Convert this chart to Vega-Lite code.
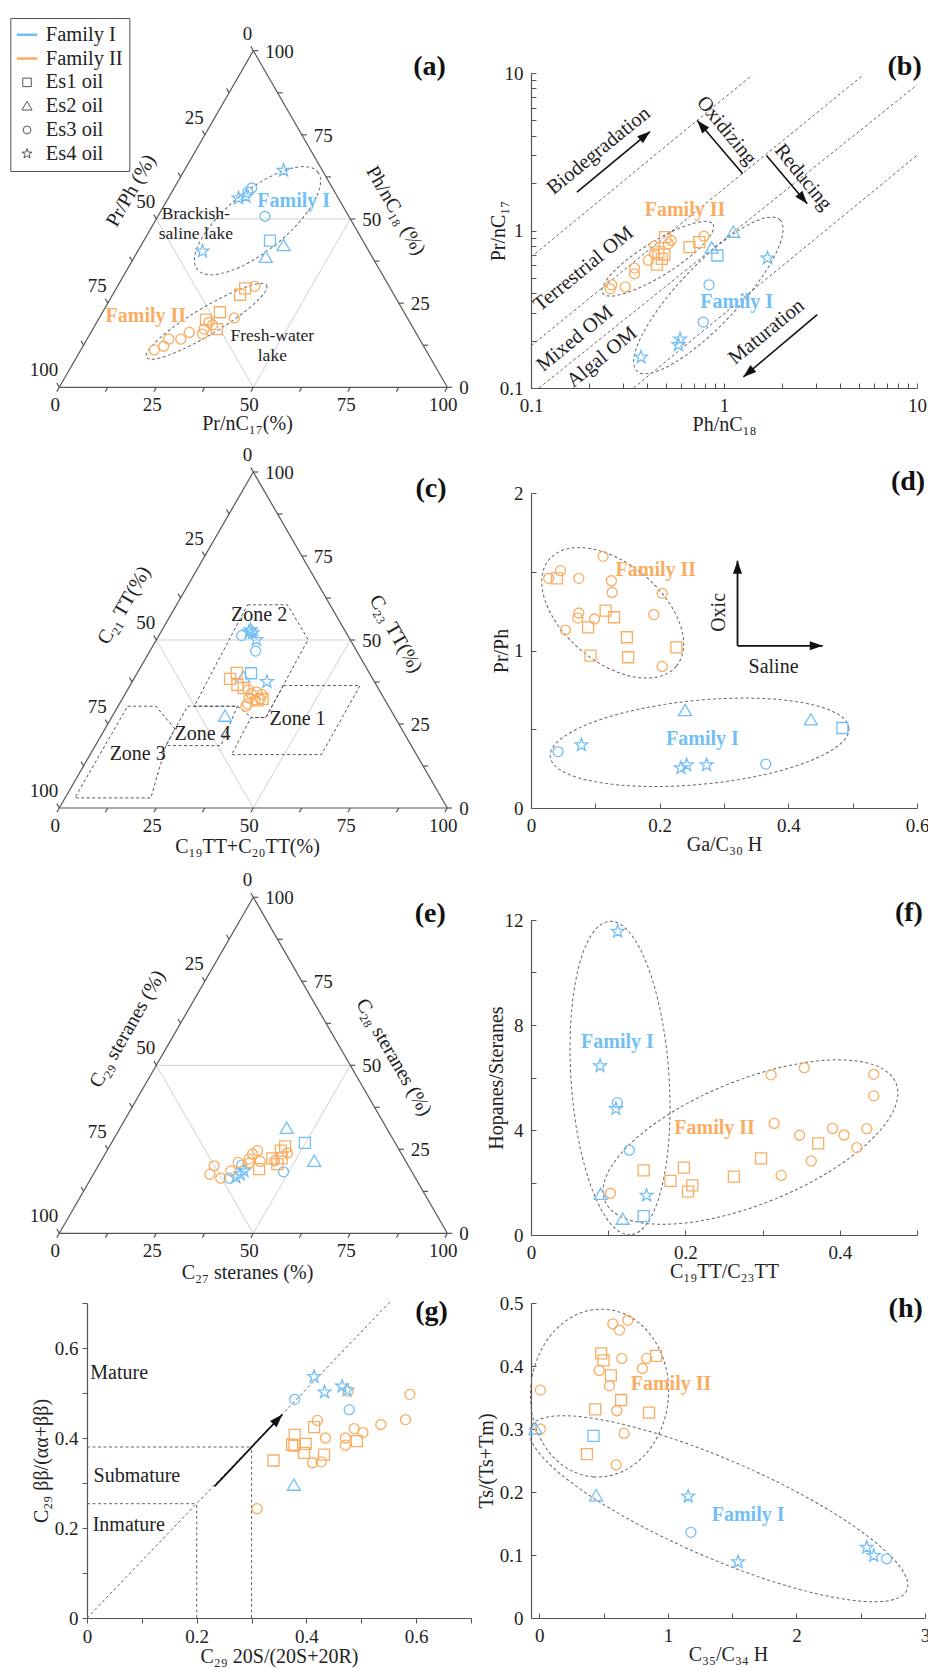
{
"$schema":"https://vega.github.io/schema/vega-lite/v6.json",
"background":"white",
"padding":{"left":9,"top":17,"right":2,"bottom":2},
"config":{"view":{"stroke":null},"font":"Liberation Serif","text":{"font":"Liberation Serif"},
"axis":{"labelFont":"Liberation Serif","titleFont":"Liberation Serif","labelFontSize":19,"titleFontSize":20,"titleFontWeight":"normal","labelColor":"#222","titleColor":"#222","domainColor":"#555","tickColor":"#555","grid":false,"tickSize":-5,"labelPadding":13,"titleBaseline":"middle","labelFlush":false,"labelOverlap":false,"domainWidth":1.2,"tickWidth":1}},
"datasets":{
"frame":[
{"t":"side","x":0,"y":0,"x2":100,"y2":0},{"t":"side","x":0,"y":0,"x2":50,"y2":100},{"t":"side","x":100,"y":0,"x2":50,"y2":100},
{"t":"grid","x":25,"y":50,"x2":75,"y2":50},{"t":"grid","x":25,"y":50,"x2":50,"y2":0},{"t":"grid","x":50,"y":0,"x2":75,"y2":50},
{"t":"tick","x":0,"y":0,"x2":-0.64,"y2":-1.29},{"t":"tick","x":12.5,"y":0,"x2":11.86,"y2":-1.29},{"t":"tick","x":25,"y":0,"x2":24.36,"y2":-1.29},{"t":"tick","x":37.5,"y":0,"x2":36.86,"y2":-1.29},{"t":"tick","x":50,"y":0,"x2":49.36,"y2":-1.29},{"t":"tick","x":62.5,"y":0,"x2":61.86,"y2":-1.29},{"t":"tick","x":75,"y":0,"x2":74.36,"y2":-1.29},{"t":"tick","x":87.5,"y":0,"x2":86.86,"y2":-1.29},{"t":"tick","x":100,"y":0,"x2":99.36,"y2":-1.29},
{"t":"tick","x":50,"y":100,"x2":49.36,"y2":101.29},{"t":"tick","x":43.75,"y":87.5,"x2":43.11,"y2":88.79},{"t":"tick","x":37.5,"y":75,"x2":36.86,"y2":76.29},{"t":"tick","x":31.25,"y":62.5,"x2":30.61,"y2":63.79},{"t":"tick","x":25,"y":50,"x2":24.36,"y2":51.29},{"t":"tick","x":18.75,"y":37.5,"x2":18.11,"y2":38.79},{"t":"tick","x":12.5,"y":25,"x2":11.86,"y2":26.29},{"t":"tick","x":6.25,"y":12.5,"x2":5.61,"y2":13.79},{"t":"tick","x":0,"y":0,"x2":-0.64,"y2":1.29},
{"t":"tick","x":100,"y":0,"x2":101.29,"y2":0},{"t":"tick","x":93.75,"y":12.5,"x2":95.04,"y2":12.5},{"t":"tick","x":87.5,"y":25,"x2":88.79,"y2":25},{"t":"tick","x":81.25,"y":37.5,"x2":82.54,"y2":37.5},{"t":"tick","x":75,"y":50,"x2":76.29,"y2":50},{"t":"tick","x":68.75,"y":62.5,"x2":70.04,"y2":62.5},{"t":"tick","x":62.5,"y":75,"x2":63.79,"y2":75},{"t":"tick","x":56.25,"y":87.5,"x2":57.54,"y2":87.5},{"t":"tick","x":50,"y":100,"x2":51.29,"y2":100}],
"tlab":[
{"s":"b","label":"0","x":0,"y":0},{"s":"b","label":"25","x":25,"y":0},{"s":"b","label":"50","x":50,"y":0},{"s":"b","label":"75","x":75,"y":0},{"s":"b","label":"100","x":100,"y":0},
{"s":"l","label":"0","x":50,"y":100},{"s":"l","label":"25","x":37.5,"y":75},{"s":"l","label":"50","x":25,"y":50},{"s":"l","label":"75","x":12.5,"y":25},{"s":"l","label":"100","x":0,"y":0},
{"s":"r","label":"0","x":100,"y":0},{"s":"r","label":"25","x":87.5,"y":25},{"s":"r","label":"50","x":75,"y":50},{"s":"r","label":"75","x":62.5,"y":75},{"s":"r","label":"100","x":50,"y":100}],
"zones":[
{"z":"1","i":0,"x":57.77,"y":36.44},{"z":"1","i":1,"x":77.51,"y":36.44},{"z":"1","i":2,"x":67.55,"y":15.89},{"z":"1","i":3,"x":44.38,"y":15.89},{"z":"1","i":4,"x":49.4,"y":26.9},{"z":"1","i":5,"x":53.2,"y":26.9},{"z":"1","i":6,"x":57.77,"y":36.44},
{"z":"2","i":0,"x":48.5,"y":60.47},{"z":"2","i":1,"x":58.8,"y":60.47},{"z":"2","i":2,"x":64.12,"y":50.14},{"z":"2","i":3,"x":53.2,"y":26.9},{"z":"2","i":4,"x":49.6,"y":26.9},{"z":"2","i":5,"x":45.92,"y":30.29},{"z":"2","i":6,"x":34.77,"y":30.29},{"z":"2","i":7,"x":48.5,"y":60.47},
{"z":"4","i":0,"x":33.05,"y":30.29},{"z":"4","i":1,"x":45.92,"y":30.29},{"z":"4","i":2,"x":41.63,"y":18.57},{"z":"4","i":3,"x":27.47,"y":18.57},{"z":"4","i":4,"x":33.05,"y":30.29},
{"z":"3","i":0,"x":17.6,"y":30.3},{"z":"3","i":1,"x":24.9,"y":30.3},{"z":"3","i":2,"x":29.8,"y":23.5},{"z":"3","i":3,"x":27.47,"y":18.57},{"z":"3","i":4,"x":23.6,"y":3.0},{"z":"3","i":5,"x":4.0,"y":3.0},{"z":"3","i":6,"x":17.6,"y":30.3}],
"ell":[
{"id":"a1","x":51.08,"y":49.5},{"id":"a2","x":37.95,"y":19.6},{"id":"b1","x":0.454,"y":0.662},{"id":"b2","x":0.83,"y":0.387},{"id":"d1","x":0.127,"y":1.239},{"id":"d2","x":0.262,"y":0.417},{"id":"f1","x":0.1153,"y":5.98},{"id":"f2","x":0.2843,"y":3.54},{"id":"h1","x":0.468,"y":0.357},{"id":"h2","x":1.395,"y":0.1734}],
"blin":[{"x":0.1,"y":0.678,"x2":1.4,"y2":9.7},{"x":0.1,"y":0.185,"x2":5.26,"y2":9.7},{"x":0.11,"y":0.1,"x2":10,"y2":8.4},{"x":0.34,"y":0.1,"x2":10,"y2":3.0}],
"glin":[{"x":0,"y":0,"x2":0.552,"y2":0.702},{"x":0,"y":0.38,"x2":0.3,"y2":0.38},{"x":0.3,"y":0,"x2":0.3,"y2":0.38},{"x":0,"y":0.254,"x2":0.2,"y2":0.254},{"x":0.2,"y":0,"x2":0.2,"y2":0.254}],
"arr":[
{"p":"b","id":"bio","x":0.173,"y":1.75,"x2":0.414,"y2":4.25},{"p":"b","id":"oxi","x":1.25,"y":2.29,"x2":0.727,"y2":4.99},{"p":"b","id":"red","x":1.66,"y":2.99,"x2":2.7,"y2":1.48},{"p":"b","id":"mat","x":3.04,"y":0.292,"x2":1.26,"y2":0.1175},
{"p":"d","id":"up","x":0.321,"y":1.03,"x2":0.321,"y2":1.57},{"p":"d","id":"rt","x":0.321,"y":1.03,"x2":0.4535,"y2":1.03},
{"p":"g","id":"g","x":0.2325,"y":0.2926,"x2":0.356,"y2":0.452}],
"ann":[
{"p":"a","k":"tl","label":"Pr/Ph (%)","x":18.5,"y":58.4},{"p":"a","k":"tr","label":"Ph/nC₁₈ (%)","x":86.7,"y":52.5},{"p":"a","k":"tb","label":"Pr/nC₁₇(%)","x":48.5,"y":-10.9},
{"p":"a","k":"fam1","label":"Family I","x":60.4,"y":55.3},{"p":"a","k":"fam2","label":"Family II","x":22.3,"y":21.3},
{"p":"a","k":"noteS","label":"Brackish-","x":35.2,"y":51.5},{"p":"a","k":"noteS","label":"saline lake","x":35.2,"y":45.5},{"p":"a","k":"noteS","label":"Fresh-water","x":54.9,"y":15.2},{"p":"a","k":"noteS","label":"lake","x":54.9,"y":9.4},
{"p":"a","k":"panel","label":"(a)","x":95.4,"y":95.1},
{"p":"b","k":"fam2","label":"Family II","x":0.628,"y":1.34},{"p":"b","k":"fam1","label":"Family I","x":1.164,"y":0.351},
{"p":"b","k":"rot39","label":"Terrestrial OM","x":0.187,"y":0.571},{"p":"b","k":"rot39","label":"Mixed OM","x":0.169,"y":0.206},{"p":"b","k":"rot39","label":"Algal OM","x":0.233,"y":0.157},{"p":"b","k":"rot39","label":"Biodegradation","x":0.224,"y":3.21},{"p":"b","k":"rot39","label":"Maturation","x":1.66,"y":0.227},
{"p":"b","k":"rot51","label":"Oxidizing","x":1.03,"y":4.31},{"p":"b","k":"rot51","label":"Reducing","x":2.57,"y":2.18},
{"p":"b","k":"panel","label":"(b)","x":8.63,"y":10.87},
{"p":"c","k":"tl","label":"C₂₁ TT(%)","x":16.7,"y":60.3},{"p":"c","k":"tr","label":"C₂₃ TT(%)","x":86.7,"y":51.8},{"p":"c","k":"tb","label":"C₁₉TT+C₂₀TT(%)","x":48.5,"y":-11.7},
{"p":"c","k":"note","label":"Zone 1","x":61.4,"y":26.5},{"p":"c","k":"note","label":"Zone 2","x":51.5,"y":57.3},{"p":"c","k":"note","label":"Zone 3","x":20.2,"y":16.1},{"p":"c","k":"note","label":"Zone 4","x":36.9,"y":22.0},
{"p":"c","k":"panel","label":"(c)","x":95.8,"y":94.9},
{"p":"d","k":"fam2","label":"Family II","x":0.194,"y":1.513},{"p":"d","k":"fam1","label":"Family I","x":0.2665,"y":0.438},{"p":"d","k":"rot90","label":"Oxic","x":0.2925,"y":1.242},{"p":"d","k":"note","label":"Saline","x":0.377,"y":0.897},{"p":"d","k":"panel","label":"(d)","x":0.586,"y":2.068},
{"p":"e","k":"tl","label":"C₂₉ steranes (%)","x":17.6,"y":60.8},{"p":"e","k":"tr","label":"C₂₈ steranes (%)","x":86.2,"y":52.4},{"p":"e","k":"tb","label":"C₂₇ steranes (%)","x":48.5,"y":-11.9},{"p":"e","k":"panel","label":"(e)","x":95.6,"y":95.0},
{"p":"f","k":"fam1","label":"Family I","x":0.112,"y":7.35},{"p":"f","k":"fam2","label":"Family II","x":0.2378,"y":4.09},{"p":"f","k":"panel","label":"(f)","x":0.4895,"y":12.28},
{"p":"g","k":"noteL","label":"Mature","x":0.006,"y":0.544},{"p":"g","k":"noteL","label":"Submature","x":0.012,"y":0.3156},{"p":"g","k":"noteL","label":"Inmature","x":0.0104,"y":0.206},{"p":"g","k":"panel","label":"(g)","x":0.628,"y":0.68},
{"p":"h","k":"fam2","label":"Family II","x":1.024,"y":0.371},{"p":"h","k":"fam1","label":"Family I","x":1.624,"y":0.164},{"p":"h","k":"panel","label":"(h)","x":2.85,"y":0.491}],
"pts":[
{"p":"a","fam":"Family I","oil":"Es4 oil","x":57.8,"y":64.4},{"p":"a","fam":"Family I","oil":"Es3 oil","x":49.6,"y":59.2},{"p":"a","fam":"Family I","oil":"Es3 oil","x":48.6,"y":58.0},{"p":"a","fam":"Family I","oil":"Es4 oil","x":46.2,"y":56.2},{"p":"a","fam":"Family I","oil":"Es4 oil","x":48.1,"y":56.7},{"p":"a","fam":"Family I","oil":"Es3 oil","x":53.0,"y":50.8},{"p":"a","fam":"Family I","oil":"Es1 oil","x":54.3,"y":43.6},{"p":"a","fam":"Family I","oil":"Es2 oil","x":57.8,"y":42.1},{"p":"a","fam":"Family I","oil":"Es2 oil","x":53.2,"y":38.6},{"p":"a","fam":"Family I","oil":"Es4 oil","x":36.9,"y":40.4},
{"p":"a","fam":"Family II","oil":"Es3 oil","x":50.4,"y":30.0},{"p":"a","fam":"Family II","oil":"Es1 oil","x":47.9,"y":29.4},{"p":"a","fam":"Family II","oil":"Es1 oil","x":46.6,"y":27.5},{"p":"a","fam":"Family II","oil":"Es1 oil","x":41.4,"y":22.3},{"p":"a","fam":"Family II","oil":"Es3 oil","x":45.1,"y":20.6},{"p":"a","fam":"Family II","oil":"Es1 oil","x":37.8,"y":20.1},{"p":"a","fam":"Family II","oil":"Es3 oil","x":38.6,"y":19.3},{"p":"a","fam":"Family II","oil":"Es1 oil","x":40.6,"y":17.3},{"p":"a","fam":"Family II","oil":"Es3 oil","x":37.3,"y":17.3},{"p":"a","fam":"Family II","oil":"Es3 oil","x":36.9,"y":15.8},{"p":"a","fam":"Family II","oil":"Es3 oil","x":33.5,"y":16.3},{"p":"a","fam":"Family II","oil":"Es3 oil","x":31.3,"y":14.3},{"p":"a","fam":"Family II","oil":"Es3 oil","x":28.2,"y":14.3},{"p":"a","fam":"Family II","oil":"Es3 oil","x":26.9,"y":12.2},{"p":"a","fam":"Family II","oil":"Es3 oil","x":24.5,"y":11.1},{"p":"a","fam":"Family II","oil":"Es3 oil","x":39.5,"y":18.5},
{"p":"b","fam":"Family II","oil":"Es3 oil","x":0.257,"y":0.426},{"p":"b","fam":"Family II","oil":"Es3 oil","x":0.262,"y":0.452},{"p":"b","fam":"Family II","oil":"Es3 oil","x":0.308,"y":0.438},{"p":"b","fam":"Family II","oil":"Es3 oil","x":0.344,"y":0.531},{"p":"b","fam":"Family II","oil":"Es3 oil","x":0.344,"y":0.577},{"p":"b","fam":"Family II","oil":"Es3 oil","x":0.406,"y":0.646},{"p":"b","fam":"Family II","oil":"Es3 oil","x":0.437,"y":0.796},{"p":"b","fam":"Family II","oil":"Es3 oil","x":0.437,"y":0.711},{"p":"b","fam":"Family II","oil":"Es1 oil","x":0.449,"y":0.608},{"p":"b","fam":"Family II","oil":"Es1 oil","x":0.476,"y":0.661},{"p":"b","fam":"Family II","oil":"Es1 oil","x":0.491,"y":0.704},{"p":"b","fam":"Family II","oil":"Es1 oil","x":0.457,"y":0.729},{"p":"b","fam":"Family II","oil":"Es1 oil","x":0.495,"y":0.908},{"p":"b","fam":"Family II","oil":"Es3 oil","x":0.515,"y":0.823},{"p":"b","fam":"Family II","oil":"Es3 oil","x":0.532,"y":0.864},{"p":"b","fam":"Family II","oil":"Es1 oil","x":0.662,"y":0.784},{"p":"b","fam":"Family II","oil":"Es1 oil","x":0.745,"y":0.843},{"p":"b","fam":"Family II","oil":"Es3 oil","x":0.788,"y":0.92},
{"p":"b","fam":"Family I","oil":"Es2 oil","x":1.117,"y":0.975},{"p":"b","fam":"Family I","oil":"Es2 oil","x":0.863,"y":0.773},{"p":"b","fam":"Family I","oil":"Es1 oil","x":0.924,"y":0.694},{"p":"b","fam":"Family I","oil":"Es4 oil","x":1.68,"y":0.668},{"p":"b","fam":"Family I","oil":"Es3 oil","x":0.836,"y":0.452},{"p":"b","fam":"Family I","oil":"Es3 oil","x":0.781,"y":0.262},{"p":"b","fam":"Family I","oil":"Es4 oil","x":0.592,"y":0.204},{"p":"b","fam":"Family I","oil":"Es4 oil","x":0.58,"y":0.188},{"p":"b","fam":"Family I","oil":"Es4 oil","x":0.372,"y":0.157},
{"p":"c","fam":"Family I","oil":"Es3 oil","x":47.0,"y":51.3},{"p":"c","fam":"Family I","oil":"Es4 oil","x":48.9,"y":52.5},{"p":"c","fam":"Family I","oil":"Es4 oil","x":49.8,"y":52.1},{"p":"c","fam":"Family I","oil":"Es4 oil","x":49.3,"y":53.0},{"p":"c","fam":"Family I","oil":"Es4 oil","x":50.8,"y":50.1},{"p":"c","fam":"Family I","oil":"Es3 oil","x":50.6,"y":46.7},{"p":"c","fam":"Family I","oil":"Es1 oil","x":49.4,"y":40.1},{"p":"c","fam":"Family I","oil":"Es2 oil","x":47.4,"y":38.9},{"p":"c","fam":"Family I","oil":"Es4 oil","x":53.5,"y":37.6},{"p":"c","fam":"Family I","oil":"Es2 oil","x":42.7,"y":27.3},
{"p":"c","fam":"Family II","oil":"Es1 oil","x":45.7,"y":40.2},{"p":"c","fam":"Family II","oil":"Es1 oil","x":44.0,"y":38.4},{"p":"c","fam":"Family II","oil":"Es1 oil","x":45.9,"y":36.6},{"p":"c","fam":"Family II","oil":"Es1 oil","x":47.5,"y":35.7},{"p":"c","fam":"Family II","oil":"Es3 oil","x":48.7,"y":35.2},{"p":"c","fam":"Family II","oil":"Es3 oil","x":49.5,"y":34.0},{"p":"c","fam":"Family II","oil":"Es3 oil","x":50.9,"y":34.5},{"p":"c","fam":"Family II","oil":"Es3 oil","x":52.2,"y":33.8},{"p":"c","fam":"Family II","oil":"Es3 oil","x":48.9,"y":32.7},{"p":"c","fam":"Family II","oil":"Es3 oil","x":50.4,"y":32.2},{"p":"c","fam":"Family II","oil":"Es3 oil","x":51.8,"y":32.5},{"p":"c","fam":"Family II","oil":"Es3 oil","x":48.5,"y":31.0},{"p":"c","fam":"Family II","oil":"Es3 oil","x":48.1,"y":30.3},{"p":"c","fam":"Family II","oil":"Es1 oil","x":51.1,"y":32.0},{"p":"c","fam":"Family II","oil":"Es1 oil","x":52.4,"y":32.5},
{"p":"d","fam":"Family II","oil":"Es3 oil","x":0.0275,"y":1.458},{"p":"d","fam":"Family II","oil":"Es1 oil","x":0.0405,"y":1.458},{"p":"d","fam":"Family II","oil":"Es3 oil","x":0.0457,"y":1.507},{"p":"d","fam":"Family II","oil":"Es3 oil","x":0.0743,"y":1.458},{"p":"d","fam":"Family II","oil":"Es3 oil","x":0.112,"y":1.598},{"p":"d","fam":"Family II","oil":"Es3 oil","x":0.125,"y":1.443},{"p":"d","fam":"Family II","oil":"Es3 oil","x":0.126,"y":1.369},{"p":"d","fam":"Family II","oil":"Es3 oil","x":0.204,"y":1.363},{"p":"d","fam":"Family II","oil":"Es3 oil","x":0.0743,"y":1.238},{"p":"d","fam":"Family II","oil":"Es3 oil","x":0.0727,"y":1.206},{"p":"d","fam":"Family II","oil":"Es3 oil","x":0.0987,"y":1.2},{"p":"d","fam":"Family II","oil":"Es1 oil","x":0.116,"y":1.253},{"p":"d","fam":"Family II","oil":"Es1 oil","x":0.129,"y":1.211},{"p":"d","fam":"Family II","oil":"Es1 oil","x":0.0888,"y":1.147},{"p":"d","fam":"Family II","oil":"Es3 oil","x":0.0535,"y":1.13},{"p":"d","fam":"Family II","oil":"Es3 oil","x":0.191,"y":1.228},{"p":"d","fam":"Family II","oil":"Es1 oil","x":0.149,"y":1.084},{"p":"d","fam":"Family II","oil":"Es1 oil","x":0.226,"y":1.02},{"p":"d","fam":"Family II","oil":"Es1 oil","x":0.0925,"y":0.967},{"p":"d","fam":"Family II","oil":"Es1 oil","x":0.151,"y":0.957},{"p":"d","fam":"Family II","oil":"Es3 oil","x":0.204,"y":0.899},
{"p":"d","fam":"Family I","oil":"Es2 oil","x":0.2395,"y":0.618},{"p":"d","fam":"Family I","oil":"Es2 oil","x":0.435,"y":0.559},{"p":"d","fam":"Family I","oil":"Es1 oil","x":0.484,"y":0.508},{"p":"d","fam":"Family I","oil":"Es4 oil","x":0.0784,"y":0.4},{"p":"d","fam":"Family I","oil":"Es3 oil","x":0.042,"y":0.358},{"p":"d","fam":"Family I","oil":"Es4 oil","x":0.233,"y":0.254},{"p":"d","fam":"Family I","oil":"Es4 oil","x":0.242,"y":0.273},{"p":"d","fam":"Family I","oil":"Es4 oil","x":0.273,"y":0.273},{"p":"d","fam":"Family I","oil":"Es3 oil","x":0.365,"y":0.279},
{"p":"e","fam":"Family I","oil":"Es2 oil","x":58.6,"y":31.25},{"p":"e","fam":"Family I","oil":"Es1 oil","x":63.3,"y":26.9},{"p":"e","fam":"Family I","oil":"Es2 oil","x":65.7,"y":21.4},{"p":"e","fam":"Family I","oil":"Es3 oil","x":57.8,"y":18.3},{"p":"e","fam":"Family I","oil":"Es3 oil","x":43.8,"y":16.4},{"p":"e","fam":"Family I","oil":"Es4 oil","x":45.5,"y":16.7},{"p":"e","fam":"Family I","oil":"Es4 oil","x":46.6,"y":17.6},{"p":"e","fam":"Family I","oil":"Es4 oil","x":47.6,"y":18.6},{"p":"e","fam":"Family I","oil":"Es3 oil","x":47.0,"y":20.3},
{"p":"e","fam":"Family II","oil":"Es3 oil","x":39.9,"y":20.1},{"p":"e","fam":"Family II","oil":"Es3 oil","x":38.8,"y":17.6},{"p":"e","fam":"Family II","oil":"Es3 oil","x":41.6,"y":16.4},{"p":"e","fam":"Family II","oil":"Es3 oil","x":44.2,"y":18.6},{"p":"e","fam":"Family II","oil":"Es3 oil","x":46.1,"y":21.1},{"p":"e","fam":"Family II","oil":"Es3 oil","x":48.9,"y":22.1},{"p":"e","fam":"Family II","oil":"Es3 oil","x":49.8,"y":23.6},{"p":"e","fam":"Family II","oil":"Es3 oil","x":51.1,"y":24.6},{"p":"e","fam":"Family II","oil":"Es3 oil","x":51.8,"y":21.4},{"p":"e","fam":"Family II","oil":"Es1 oil","x":51.5,"y":19.1},{"p":"e","fam":"Family II","oil":"Es1 oil","x":54.9,"y":22.3},{"p":"e","fam":"Family II","oil":"Es1 oil","x":56.2,"y":20.6},{"p":"e","fam":"Family II","oil":"Es1 oil","x":57.3,"y":22.3},{"p":"e","fam":"Family II","oil":"Es1 oil","x":57.1,"y":24.6},{"p":"e","fam":"Family II","oil":"Es1 oil","x":58.2,"y":25.9},{"p":"e","fam":"Family II","oil":"Es3 oil","x":58.8,"y":23.9},{"p":"e","fam":"Family II","oil":"Es3 oil","x":55.5,"y":21.6},{"p":"e","fam":"Family II","oil":"Es3 oil","x":49.0,"y":21.0},
{"p":"f","fam":"Family I","oil":"Es4 oil","x":0.1123,"y":11.56},{"p":"f","fam":"Family I","oil":"Es4 oil","x":0.0895,"y":6.44},{"p":"f","fam":"Family I","oil":"Es3 oil","x":0.1118,"y":5.04},{"p":"f","fam":"Family I","oil":"Es4 oil","x":0.11,"y":4.81},{"p":"f","fam":"Family I","oil":"Es3 oil","x":0.1273,"y":3.23},{"p":"f","fam":"Family I","oil":"Es2 oil","x":0.0903,"y":1.55},{"p":"f","fam":"Family I","oil":"Es4 oil","x":0.1497,"y":1.51},{"p":"f","fam":"Family I","oil":"Es2 oil","x":0.1187,"y":0.6},{"p":"f","fam":"Family I","oil":"Es1 oil","x":0.146,"y":0.72},
{"p":"f","fam":"Family II","oil":"Es3 oil","x":0.103,"y":1.59},{"p":"f","fam":"Family II","oil":"Es1 oil","x":0.146,"y":2.46},{"p":"f","fam":"Family II","oil":"Es1 oil","x":0.1806,"y":2.06},{"p":"f","fam":"Family II","oil":"Es1 oil","x":0.198,"y":2.57},{"p":"f","fam":"Family II","oil":"Es1 oil","x":0.2034,"y":1.65},{"p":"f","fam":"Family II","oil":"Es1 oil","x":0.209,"y":1.89},{"p":"f","fam":"Family II","oil":"Es1 oil","x":0.2628,"y":2.22},{"p":"f","fam":"Family II","oil":"Es1 oil","x":0.298,"y":2.92},{"p":"f","fam":"Family II","oil":"Es3 oil","x":0.311,"y":6.1},{"p":"f","fam":"Family II","oil":"Es3 oil","x":0.354,"y":6.37},{"p":"f","fam":"Family II","oil":"Es3 oil","x":0.444,"y":6.12},{"p":"f","fam":"Family II","oil":"Es3 oil","x":0.444,"y":5.3},{"p":"f","fam":"Family II","oil":"Es3 oil","x":0.315,"y":4.25},{"p":"f","fam":"Family II","oil":"Es3 oil","x":0.324,"y":2.27},{"p":"f","fam":"Family II","oil":"Es3 oil","x":0.348,"y":3.8},{"p":"f","fam":"Family II","oil":"Es3 oil","x":0.363,"y":2.82},{"p":"f","fam":"Family II","oil":"Es1 oil","x":0.372,"y":3.49},{"p":"f","fam":"Family II","oil":"Es3 oil","x":0.3905,"y":4.06},{"p":"f","fam":"Family II","oil":"Es3 oil","x":0.4056,"y":3.81},{"p":"f","fam":"Family II","oil":"Es3 oil","x":0.422,"y":3.33},{"p":"f","fam":"Family II","oil":"Es3 oil","x":0.435,"y":4.05},
{"p":"g","fam":"Family II","oil":"Es3 oil","x":0.476,"y":0.504},{"p":"g","fam":"Family II","oil":"Es3 oil","x":0.5886,"y":0.497},{"p":"g","fam":"Family II","oil":"Es3 oil","x":0.5806,"y":0.441},{"p":"g","fam":"Family II","oil":"Es3 oil","x":0.5356,"y":0.43},{"p":"g","fam":"Family II","oil":"Es3 oil","x":0.42,"y":0.439},{"p":"g","fam":"Family II","oil":"Es1 oil","x":0.414,"y":0.424},{"p":"g","fam":"Family II","oil":"Es3 oil","x":0.487,"y":0.421},{"p":"g","fam":"Family II","oil":"Es3 oil","x":0.503,"y":0.412},{"p":"g","fam":"Family II","oil":"Es1 oil","x":0.3786,"y":0.407},{"p":"g","fam":"Family II","oil":"Es3 oil","x":0.4346,"y":0.4},{"p":"g","fam":"Family II","oil":"Es3 oil","x":0.471,"y":0.4},{"p":"g","fam":"Family II","oil":"Es1 oil","x":0.492,"y":0.393},{"p":"g","fam":"Family II","oil":"Es1 oil","x":0.374,"y":0.385},{"p":"g","fam":"Family II","oil":"Es1 oil","x":0.3987,"y":0.387},{"p":"g","fam":"Family II","oil":"Es3 oil","x":0.471,"y":0.384},{"p":"g","fam":"Family II","oil":"Es1 oil","x":0.378,"y":0.383},{"p":"g","fam":"Family II","oil":"Es1 oil","x":0.3956,"y":0.367},{"p":"g","fam":"Family II","oil":"Es1 oil","x":0.432,"y":0.363},{"p":"g","fam":"Family II","oil":"Es3 oil","x":0.411,"y":0.345},{"p":"g","fam":"Family II","oil":"Es3 oil","x":0.427,"y":0.347},{"p":"g","fam":"Family II","oil":"Es1 oil","x":0.34,"y":0.35},{"p":"g","fam":"Family II","oil":"Es3 oil","x":0.31,"y":0.243},
{"p":"g","fam":"Family I","oil":"Es4 oil","x":0.414,"y":0.536},{"p":"g","fam":"Family I","oil":"Es4 oil","x":0.433,"y":0.502},{"p":"g","fam":"Family I","oil":"Es4 oil","x":0.465,"y":0.515},{"p":"g","fam":"Family I","oil":"Es4 oil","x":0.474,"y":0.506},{"p":"g","fam":"Family I","oil":"Es3 oil","x":0.3786,"y":0.486},{"p":"g","fam":"Family I","oil":"Es3 oil","x":0.478,"y":0.463},{"p":"g","fam":"Family I","oil":"Es2 oil","x":0.377,"y":0.295},
{"p":"h","fam":"Family II","oil":"Es3 oil","x":0.5715,"y":0.467},{"p":"h","fam":"Family II","oil":"Es3 oil","x":0.623,"y":0.457},{"p":"h","fam":"Family II","oil":"Es3 oil","x":0.688,"y":0.4725},{"p":"h","fam":"Family II","oil":"Es1 oil","x":0.481,"y":0.42},{"p":"h","fam":"Family II","oil":"Es1 oil","x":0.499,"y":0.409},{"p":"h","fam":"Family II","oil":"Es3 oil","x":0.641,"y":0.412},{"p":"h","fam":"Family II","oil":"Es3 oil","x":0.835,"y":0.412},{"p":"h","fam":"Family II","oil":"Es1 oil","x":0.908,"y":0.416},{"p":"h","fam":"Family II","oil":"Es3 oil","x":0.8017,"y":0.396},{"p":"h","fam":"Family II","oil":"Es3 oil","x":0.4655,"y":0.393},{"p":"h","fam":"Family II","oil":"Es1 oil","x":0.556,"y":0.385},{"p":"h","fam":"Family II","oil":"Es3 oil","x":0.5456,"y":0.3685},{"p":"h","fam":"Family II","oil":"Es3 oil","x":0.0078,"y":0.3617},{"p":"h","fam":"Family II","oil":"Es1 oil","x":0.636,"y":0.346},{"p":"h","fam":"Family II","oil":"Es1 oil","x":0.4345,"y":0.331},{"p":"h","fam":"Family II","oil":"Es3 oil","x":0.6025,"y":0.329},{"p":"h","fam":"Family II","oil":"Es1 oil","x":0.853,"y":0.326},{"p":"h","fam":"Family II","oil":"Es3 oil","x":0.0078,"y":0.3},{"p":"h","fam":"Family II","oil":"Es3 oil","x":0.659,"y":0.293},{"p":"h","fam":"Family II","oil":"Es1 oil","x":0.37,"y":0.26},{"p":"h","fam":"Family II","oil":"Es3 oil","x":0.597,"y":0.243},
{"p":"h","fam":"Family I","oil":"Es1 oil","x":0.4215,"y":0.289},{"p":"h","fam":"Family I","oil":"Es2 oil","x":0.442,"y":0.194},{"p":"h","fam":"Family I","oil":"Es4 oil","x":1.158,"y":0.193},{"p":"h","fam":"Family I","oil":"Es3 oil","x":1.179,"y":0.136},{"p":"h","fam":"Family I","oil":"Es4 oil","x":1.546,"y":0.089},{"p":"h","fam":"Family I","oil":"Es4 oil","x":2.547,"y":0.112},{"p":"h","fam":"Family I","oil":"Es4 oil","x":2.601,"y":0.099},{"p":"h","fam":"Family I","oil":"Es3 oil","x":2.702,"y":0.094},{"p":"h","fam":"Family I","oil":"Es2 oil","x":-0.03,"y":0.3}]
},
"columns":2,
"align":"each",
"bounds":"flush",
"spacing":{"row":68,"column":60},
"concat":[
{"width":384,"height":352,
"encoding":{"x":{"field":"x","type":"quantitative","scale":{"domain":[7.14,106.1],"nice":false,"zero":false},"axis":null},"y":{"field":"y","type":"quantitative","scale":{"domain":[-11.2,93.37],"nice":false,"zero":false},"axis":null}},
"layer":[
{"data":{"name":"frame"},"transform":[{"filter":"datum.t=='grid'"}],"mark":{"type":"rule","stroke":"#d0d0d0","strokeWidth":1},"encoding":{"x2":{"field":"x2"},"y2":{"field":"y2"}}},
{"data":{"name":"frame"},"transform":[{"filter":"datum.t!='grid'"}],"mark":{"type":"rule","stroke":"#555","strokeWidth":1.2},"encoding":{"x2":{"field":"x2"},"y2":{"field":"y2"}}},
{"data":{"name":"tlab"},"transform":[{"filter":"datum.s=='b'"}],"mark":{"type":"text","fontSize":19,"fill":"#222","align":"center","baseline":"top","dx":-4,"dy":9},"encoding":{"text":{"field":"label"}}},
{"data":{"name":"tlab"},"transform":[{"filter":"datum.s=='l'"}],"mark":{"type":"text","fontSize":19,"fill":"#222","align":"right","baseline":"middle","dx":-1,"dy":-17},"encoding":{"text":{"field":"label"}}},
{"data":{"name":"tlab"},"transform":[{"filter":"datum.s=='r'"}],"mark":{"type":"text","fontSize":19,"fill":"#222","align":"left","baseline":"middle","dx":12,"dy":1},"encoding":{"text":{"field":"label"}}},
{"data":{"name":"ell"},"transform":[{"filter":"datum.id=='a1'"}],"mark":{"type":"point","shape":"M1,0C1,0.2137 0.5523,0.387 0,0.387C-0.5523,0.387 -1,0.2137 -1,0C-1,-0.2137 -0.5523,-0.387 0,-0.387C0.5523,-0.387 1,-0.2137 1,0Z","size":24025,"angle":321,"filled":false,"stroke":"#666","strokeWidth":1,"strokeDash":[3,2.5],"opacity":1}},
{"data":{"name":"ell"},"transform":[{"filter":"datum.id=='a2'"}],"mark":{"type":"point","shape":"M1,0C1,0.1066 0.5523,0.193 0,0.193C-0.5523,0.193 -1,0.1066 -1,0C-1,-0.1066 -0.5523,-0.193 0,-0.193C0.5523,-0.193 1,-0.1066 1,0Z","size":19600,"angle":329,"filled":false,"stroke":"#666","strokeWidth":1,"strokeDash":[3,2.5],"opacity":1}},
{"data":{"name":"pts"},"transform":[{"filter":"datum.p=='a'"}],"mark":{"type":"point","filled":false,"size":100,"strokeWidth":1.3,"opacity":1},
"encoding":{"color":{"field":"fam","type":"nominal","scale":{"domain":["Family I","Family II"],"range":["#72bff5","#f9ad62"]},"legend":null},
"shape":{"field":"oil","type":"nominal","scale":{"domain":["Family I","Family II","Es1 oil","Es2 oil","Es3 oil","Es4 oil"],"range":["stroke","stroke","M-1.1,-1.1L1.1,-1.1L1.1,1.1L-1.1,1.1Z","M0,-1.25L1.3,1L-1.3,1Z","circle","M0,-1.35L0.317,-0.437L1.284,-0.417L0.513,0.167L0.794,1.092L0,0.54L-0.794,1.092L-0.513,0.167L-1.284,-0.417L-0.317,-0.437Z"]},
"legend":{"orient":"none","legendX":-76.7,"legendY":-55,"title":null,"symbolSize":420,"labelFont":"Liberation Serif","labelFontSize":20.5,"labelColor":"#222","strokeColor":"#555","fillColor":"white","padding":6.5,"labelOffset":8.5,"rowPadding":2.8,"symbolStrokeWidth":1,
"encoding":{"symbols":{"size":{"value":{"expr":"datum.value=='Family I'||datum.value=='Family II'?420:60"}},"stroke":{"value":{"expr":"datum.value=='Family I'?'#72bff5':datum.value=='Family II'?'#f9ad62':'#555555'"}},"strokeWidth":{"value":{"expr":"datum.value=='Family I'||datum.value=='Family II'?2.5:1"}}}}}}}},
{"data":{"name":"ann"},"transform":[{"filter":"datum.p=='a'&&datum.k=='tl'"}],"mark":{"type":"text","fontSize":20,"fill":"#222","angle":300},"encoding":{"text":{"field":"label"}}},
{"data":{"name":"ann"},"transform":[{"filter":"datum.p=='a'&&datum.k=='tr'"}],"mark":{"type":"text","fontSize":20,"fill":"#222","angle":60},"encoding":{"text":{"field":"label"}}},
{"data":{"name":"ann"},"transform":[{"filter":"datum.p=='a'&&datum.k=='tb'"}],"mark":{"type":"text","fontSize":20,"fill":"#222"},"encoding":{"text":{"field":"label"}}},
{"data":{"name":"ann"},"transform":[{"filter":"datum.p=='a'&&datum.k=='fam1'"}],"mark":{"type":"text","fontSize":20,"fontWeight":"bold","fill":"#72bff5"},"encoding":{"text":{"field":"label"}}},
{"data":{"name":"ann"},"transform":[{"filter":"datum.p=='a'&&datum.k=='fam2'"}],"mark":{"type":"text","fontSize":20,"fontWeight":"bold","fill":"#f9ad62"},"encoding":{"text":{"field":"label"}}},
{"data":{"name":"ann"},"transform":[{"filter":"datum.p=='a'&&datum.k=='noteS'"}],"mark":{"type":"text","fontSize":17.5,"fill":"#222"},"encoding":{"text":{"field":"label"}}},
{"data":{"name":"ann"},"transform":[{"filter":"datum.p=='a'&&datum.k=='panel'"}],"mark":{"type":"text","fontSize":28,"fontWeight":"bold","fill":"#111"},"encoding":{"text":{"field":"label"}}}
]},
{"width":386,"height":315,
"encoding":{"x":{"field":"x","type":"quantitative","scale":{"type":"log","domain":[0.1,10],"nice":false},"axis":{"title":"Ph/nC₁₈","values":[0.1,0.2,0.3,0.4,0.5,0.6,0.7,0.8,0.9,1,2,3,4,5,6,7,8,9,10],"labelExpr":"datum.value==0.1?'0.1':datum.value==1?'1':datum.value==10?'10':''","titleY":36}},
"y":{"field":"y","type":"quantitative","scale":{"type":"log","domain":[0.1,10],"nice":false},"axis":{"title":"Pr/nC₁₇","values":[0.1,0.2,0.3,0.4,0.5,0.6,0.7,0.8,0.9,1,2,3,4,5,6,7,8,9,10],"labelExpr":"datum.value==0.1?'0.1':datum.value==1?'1':datum.value==10?'10':''","titleX":-33}}},
"layer":[
{"data":{"name":"blin"},"mark":{"type":"rule","stroke":"#666","strokeWidth":1,"strokeDash":[3,2.5]},"encoding":{"x2":{"field":"x2"},"y2":{"field":"y2"}}},
{"data":{"name":"ell"},"transform":[{"filter":"datum.id=='b1'"}],"mark":{"type":"point","shape":"M1,0C1,0.1444 0.5523,0.2615 0,0.2615C-0.5523,0.2615 -1,0.1444 -1,0C-1,-0.1444 -0.5523,-0.2615 0,-0.2615C0.5523,-0.2615 1,-0.1444 1,0Z","size":16900,"angle":328,"filled":false,"stroke":"#666","strokeWidth":1,"strokeDash":[3,2.5],"opacity":1}},
{"data":{"name":"ell"},"transform":[{"filter":"datum.id=='b2'"}],"mark":{"type":"point","shape":"M1,0C1,0.1593 0.5523,0.2885 0,0.2885C-0.5523,0.2885 -1,0.1593 -1,0C-1,-0.1593 -0.5523,-0.2885 0,-0.2885C0.5523,-0.2885 1,-0.1593 1,0Z","size":43264,"angle":313.4,"filled":false,"stroke":"#666","strokeWidth":1,"strokeDash":[3,2.5],"opacity":1}},
{"data":{"name":"arr"},"transform":[{"filter":"datum.p=='b'"}],"mark":{"type":"rule","stroke":"#111","strokeWidth":1.6},"encoding":{"x2":{"field":"x2"},"y2":{"field":"y2"}}},
{"data":{"name":"arr"},"transform":[{"filter":"datum.id=='bio'"}],"mark":{"type":"point","shape":"M0,0L-2,-0.7L-2,0.7Z","size":169,"angle":320.4,"filled":true,"color":"#111","opacity":1},"encoding":{"x":{"field":"x2","type":"quantitative"},"y":{"field":"y2","type":"quantitative"}}},
{"data":{"name":"arr"},"transform":[{"filter":"datum.id=='oxi'"}],"mark":{"type":"point","shape":"M0,0L-2,-0.7L-2,0.7Z","size":169,"angle":229.6,"filled":true,"color":"#111","opacity":1},"encoding":{"x":{"field":"x2","type":"quantitative"},"y":{"field":"y2","type":"quantitative"}}},
{"data":{"name":"arr"},"transform":[{"filter":"datum.id=='red'"}],"mark":{"type":"point","shape":"M0,0L-2,-0.7L-2,0.7Z","size":169,"angle":49.9,"filled":true,"color":"#111","opacity":1},"encoding":{"x":{"field":"x2","type":"quantitative"},"y":{"field":"y2","type":"quantitative"}}},
{"data":{"name":"arr"},"transform":[{"filter":"datum.id=='mat'"}],"mark":{"type":"point","shape":"M0,0L-2,-0.7L-2,0.7Z","size":169,"angle":139.9,"filled":true,"color":"#111","opacity":1},"encoding":{"x":{"field":"x2","type":"quantitative"},"y":{"field":"y2","type":"quantitative"}}},
{"data":{"name":"pts"},"transform":[{"filter":"datum.p=='b'"}],"mark":{"type":"point","filled":false,"size":100,"strokeWidth":1.3,"opacity":1},
"encoding":{"color":{"field":"fam","type":"nominal","scale":{"domain":["Family I","Family II"],"range":["#72bff5","#f9ad62"]},"legend":null},
"shape":{"field":"oil","type":"nominal","scale":{"domain":["Family I","Family II","Es1 oil","Es2 oil","Es3 oil","Es4 oil"],"range":["stroke","stroke","M-1.1,-1.1L1.1,-1.1L1.1,1.1L-1.1,1.1Z","M0,-1.25L1.3,1L-1.3,1Z","circle","M0,-1.35L0.317,-0.437L1.284,-0.417L0.513,0.167L0.794,1.092L0,0.54L-0.794,1.092L-0.513,0.167L-1.284,-0.417L-0.317,-0.437Z"]}}}},
{"data":{"name":"ann"},"transform":[{"filter":"datum.p=='b'&&datum.k=='fam1'"}],"mark":{"type":"text","fontSize":20,"fontWeight":"bold","fill":"#72bff5"},"encoding":{"text":{"field":"label"}}},
{"data":{"name":"ann"},"transform":[{"filter":"datum.p=='b'&&datum.k=='fam2'"}],"mark":{"type":"text","fontSize":20,"fontWeight":"bold","fill":"#f9ad62"},"encoding":{"text":{"field":"label"}}},
{"data":{"name":"ann"},"transform":[{"filter":"datum.p=='b'&&datum.k=='rot39'"}],"mark":{"type":"text","fontSize":20.5,"fill":"#222","angle":320.8},"encoding":{"text":{"field":"label"}}},
{"data":{"name":"ann"},"transform":[{"filter":"datum.p=='b'&&datum.k=='rot51'"}],"mark":{"type":"text","fontSize":20.5,"fill":"#222","angle":50.8},"encoding":{"text":{"field":"label"}}},
{"data":{"name":"ann"},"transform":[{"filter":"datum.p=='b'&&datum.k=='panel'"}],"mark":{"type":"text","fontSize":28,"fontWeight":"bold","fill":"#111"},"encoding":{"text":{"field":"label"}}}
]},
{"width":384,"height":359,
"encoding":{"x":{"field":"x","type":"quantitative","scale":{"domain":[7.14,106.1],"nice":false,"zero":false},"axis":null},"y":{"field":"y","type":"quantitative","scale":{"domain":[-13.1,93.75],"nice":false,"zero":false},"axis":null}},
"layer":[
{"data":{"name":"frame"},"transform":[{"filter":"datum.t=='grid'"}],"mark":{"type":"rule","stroke":"#d0d0d0","strokeWidth":1},"encoding":{"x2":{"field":"x2"},"y2":{"field":"y2"}}},
{"data":{"name":"frame"},"transform":[{"filter":"datum.t!='grid'"}],"mark":{"type":"rule","stroke":"#555","strokeWidth":1.2},"encoding":{"x2":{"field":"x2"},"y2":{"field":"y2"}}},
{"data":{"name":"tlab"},"transform":[{"filter":"datum.s=='b'"}],"mark":{"type":"text","fontSize":19,"fill":"#222","align":"center","baseline":"top","dx":-4,"dy":9},"encoding":{"text":{"field":"label"}}},
{"data":{"name":"tlab"},"transform":[{"filter":"datum.s=='l'"}],"mark":{"type":"text","fontSize":19,"fill":"#222","align":"right","baseline":"middle","dx":-1,"dy":-17},"encoding":{"text":{"field":"label"}}},
{"data":{"name":"tlab"},"transform":[{"filter":"datum.s=='r'"}],"mark":{"type":"text","fontSize":19,"fill":"#222","align":"left","baseline":"middle","dx":12,"dy":1},"encoding":{"text":{"field":"label"}}},
{"data":{"name":"zones"},"mark":{"type":"line","stroke":"#555","strokeWidth":1,"strokeDash":[3,2.5]},"encoding":{"detail":{"field":"z"},"order":{"field":"i","type":"quantitative"}}},
{"data":{"name":"pts"},"transform":[{"filter":"datum.p=='c'"}],"mark":{"type":"point","filled":false,"size":100,"strokeWidth":1.3,"opacity":1},
"encoding":{"color":{"field":"fam","type":"nominal","scale":{"domain":["Family I","Family II"],"range":["#72bff5","#f9ad62"]},"legend":null},
"shape":{"field":"oil","type":"nominal","scale":{"domain":["Family I","Family II","Es1 oil","Es2 oil","Es3 oil","Es4 oil"],"range":["stroke","stroke","M-1.1,-1.1L1.1,-1.1L1.1,1.1L-1.1,1.1Z","M0,-1.25L1.3,1L-1.3,1Z","circle","M0,-1.35L0.317,-0.437L1.284,-0.417L0.513,0.167L0.794,1.092L0,0.54L-0.794,1.092L-0.513,0.167L-1.284,-0.417L-0.317,-0.437Z"]}}}},
{"data":{"name":"ann"},"transform":[{"filter":"datum.p=='c'&&datum.k=='tl'"}],"mark":{"type":"text","fontSize":20,"fill":"#222","angle":300},"encoding":{"text":{"field":"label"}}},
{"data":{"name":"ann"},"transform":[{"filter":"datum.p=='c'&&datum.k=='tr'"}],"mark":{"type":"text","fontSize":20,"fill":"#222","angle":60},"encoding":{"text":{"field":"label"}}},
{"data":{"name":"ann"},"transform":[{"filter":"datum.p=='c'&&datum.k=='tb'"}],"mark":{"type":"text","fontSize":20,"fill":"#222"},"encoding":{"text":{"field":"label"}}},
{"data":{"name":"ann"},"transform":[{"filter":"datum.p=='c'&&datum.k=='note'"}],"mark":{"type":"text","fontSize":20,"fill":"#222"},"encoding":{"text":{"field":"label"}}},
{"data":{"name":"ann"},"transform":[{"filter":"datum.p=='c'&&datum.k=='panel'"}],"mark":{"type":"text","fontSize":28,"fontWeight":"bold","fill":"#111"},"encoding":{"text":{"field":"label"}}}
]},
{"width":386,"height":315,
"encoding":{"x":{"field":"x","type":"quantitative","scale":{"domain":[0,0.6],"nice":false},"axis":{"title":"Ga/C₃₀ H","values":[0,0.1,0.2,0.3,0.4,0.5,0.6],"labelExpr":"datum.value==0||datum.value==0.2||datum.value==0.4||datum.value==0.6?format(datum.value,'~g'):''","titleY":36}},
"y":{"field":"y","type":"quantitative","scale":{"domain":[0,2],"nice":false},"axis":{"title":"Pr/Ph","values":[0,0.5,1,1.5,2],"labelExpr":"datum.value%1==0?format(datum.value,'d'):''","titleX":-30}}},
"layer":[
{"data":{"name":"ell"},"transform":[{"filter":"datum.id=='d1'"}],"mark":{"type":"point","shape":"M1,0C1,0.3261 0.5523,0.5904 0,0.5904C-0.5523,0.5904 -1,0.3261 -1,0C-1,-0.3261 -0.5523,-0.5904 0,-0.5904C0.5523,-0.5904 1,-0.3261 1,0Z","size":27556,"angle":40,"filled":false,"stroke":"#666","strokeWidth":1,"strokeDash":[3,2.5],"opacity":1}},
{"data":{"name":"ell"},"transform":[{"filter":"datum.id=='d2'"}],"mark":{"type":"point","shape":"M1,0C1,0.1546 0.5523,0.28 0,0.28C-0.5523,0.28 -1,0.1546 -1,0C-1,-0.1546 -0.5523,-0.28 0,-0.28C0.5523,-0.28 1,-0.1546 1,0Z","size":90000,"angle":354.5,"filled":false,"stroke":"#666","strokeWidth":1,"strokeDash":[3,2.5],"opacity":1}},
{"data":{"name":"arr"},"transform":[{"filter":"datum.p=='d'"}],"mark":{"type":"rule","stroke":"#111","strokeWidth":1.8},"encoding":{"x2":{"field":"x2"},"y2":{"field":"y2"}}},
{"data":{"name":"arr"},"transform":[{"filter":"datum.id=='up'"}],"mark":{"type":"point","shape":"M0,0L-2,-0.7L-2,0.7Z","size":169,"angle":270,"filled":true,"color":"#111","opacity":1},"encoding":{"x":{"field":"x2","type":"quantitative"},"y":{"field":"y2","type":"quantitative"}}},
{"data":{"name":"arr"},"transform":[{"filter":"datum.id=='rt'"}],"mark":{"type":"point","shape":"M0,0L-2,-0.7L-2,0.7Z","size":169,"angle":0,"filled":true,"color":"#111","opacity":1},"encoding":{"x":{"field":"x2","type":"quantitative"},"y":{"field":"y2","type":"quantitative"}}},
{"data":{"name":"pts"},"transform":[{"filter":"datum.p=='d'"}],"mark":{"type":"point","filled":false,"size":100,"strokeWidth":1.3,"opacity":1},
"encoding":{"color":{"field":"fam","type":"nominal","scale":{"domain":["Family I","Family II"],"range":["#72bff5","#f9ad62"]},"legend":null},
"shape":{"field":"oil","type":"nominal","scale":{"domain":["Family I","Family II","Es1 oil","Es2 oil","Es3 oil","Es4 oil"],"range":["stroke","stroke","M-1.1,-1.1L1.1,-1.1L1.1,1.1L-1.1,1.1Z","M0,-1.25L1.3,1L-1.3,1Z","circle","M0,-1.35L0.317,-0.437L1.284,-0.417L0.513,0.167L0.794,1.092L0,0.54L-0.794,1.092L-0.513,0.167L-1.284,-0.417L-0.317,-0.437Z"]}}}},
{"data":{"name":"ann"},"transform":[{"filter":"datum.p=='d'&&datum.k=='fam1'"}],"mark":{"type":"text","fontSize":20,"fontWeight":"bold","fill":"#72bff5"},"encoding":{"text":{"field":"label"}}},
{"data":{"name":"ann"},"transform":[{"filter":"datum.p=='d'&&datum.k=='fam2'"}],"mark":{"type":"text","fontSize":20,"fontWeight":"bold","fill":"#f9ad62"},"encoding":{"text":{"field":"label"}}},
{"data":{"name":"ann"},"transform":[{"filter":"datum.p=='d'&&datum.k=='note'"}],"mark":{"type":"text","fontSize":20,"fill":"#222"},"encoding":{"text":{"field":"label"}}},
{"data":{"name":"ann"},"transform":[{"filter":"datum.p=='d'&&datum.k=='rot90'"}],"mark":{"type":"text","fontSize":20,"fill":"#222","angle":270},"encoding":{"text":{"field":"label"}}},
{"data":{"name":"ann"},"transform":[{"filter":"datum.p=='d'&&datum.k=='panel'"}],"mark":{"type":"text","fontSize":28,"fontWeight":"bold","fill":"#111"},"encoding":{"text":{"field":"label"}}}
]},
{"width":384,"height":315,
"encoding":{"x":{"field":"x","type":"quantitative","scale":{"domain":[7.14,106.1],"nice":false,"zero":false},"axis":null},"y":{"field":"y","type":"quantitative","scale":{"domain":[-0.5,93.24],"nice":false,"zero":false},"axis":null}},
"layer":[
{"data":{"name":"frame"},"transform":[{"filter":"datum.t=='grid'"}],"mark":{"type":"rule","stroke":"#d0d0d0","strokeWidth":1},"encoding":{"x2":{"field":"x2"},"y2":{"field":"y2"}}},
{"data":{"name":"frame"},"transform":[{"filter":"datum.t!='grid'"}],"mark":{"type":"rule","stroke":"#555","strokeWidth":1.2},"encoding":{"x2":{"field":"x2"},"y2":{"field":"y2"}}},
{"data":{"name":"tlab"},"transform":[{"filter":"datum.s=='b'"}],"mark":{"type":"text","fontSize":19,"fill":"#222","align":"center","baseline":"top","dx":-4,"dy":9},"encoding":{"text":{"field":"label"}}},
{"data":{"name":"tlab"},"transform":[{"filter":"datum.s=='l'"}],"mark":{"type":"text","fontSize":19,"fill":"#222","align":"right","baseline":"middle","dx":-1,"dy":-17},"encoding":{"text":{"field":"label"}}},
{"data":{"name":"tlab"},"transform":[{"filter":"datum.s=='r'"}],"mark":{"type":"text","fontSize":19,"fill":"#222","align":"left","baseline":"middle","dx":12,"dy":1},"encoding":{"text":{"field":"label"}}},
{"data":{"name":"pts"},"transform":[{"filter":"datum.p=='e'"}],"mark":{"type":"point","filled":false,"size":100,"strokeWidth":1.3,"opacity":1},
"encoding":{"color":{"field":"fam","type":"nominal","scale":{"domain":["Family I","Family II"],"range":["#72bff5","#f9ad62"]},"legend":null},
"shape":{"field":"oil","type":"nominal","scale":{"domain":["Family I","Family II","Es1 oil","Es2 oil","Es3 oil","Es4 oil"],"range":["stroke","stroke","M-1.1,-1.1L1.1,-1.1L1.1,1.1L-1.1,1.1Z","M0,-1.25L1.3,1L-1.3,1Z","circle","M0,-1.35L0.317,-0.437L1.284,-0.417L0.513,0.167L0.794,1.092L0,0.54L-0.794,1.092L-0.513,0.167L-1.284,-0.417L-0.317,-0.437Z"]}}}},
{"data":{"name":"ann"},"transform":[{"filter":"datum.p=='e'&&datum.k=='tl'"}],"mark":{"type":"text","fontSize":20,"fill":"#222","angle":300},"encoding":{"text":{"field":"label"}}},
{"data":{"name":"ann"},"transform":[{"filter":"datum.p=='e'&&datum.k=='tr'"}],"mark":{"type":"text","fontSize":20,"fill":"#222","angle":60},"encoding":{"text":{"field":"label"}}},
{"data":{"name":"ann"},"transform":[{"filter":"datum.p=='e'&&datum.k=='tb'"}],"mark":{"type":"text","fontSize":20,"fill":"#222"},"encoding":{"text":{"field":"label"}}},
{"data":{"name":"ann"},"transform":[{"filter":"datum.p=='e'&&datum.k=='panel'"}],"mark":{"type":"text","fontSize":28,"fontWeight":"bold","fill":"#111"},"encoding":{"text":{"field":"label"}}}
]},
{"width":386,"height":315,
"encoding":{"x":{"field":"x","type":"quantitative","scale":{"domain":[0,0.5],"nice":false},"axis":{"title":"C₁₉TT/C₂₃TT","values":[0,0.1,0.2,0.3,0.4,0.5],"labelExpr":"datum.value==0||datum.value==0.2||datum.value==0.4?format(datum.value,'~g'):''","titleY":36}},
"y":{"field":"y","type":"quantitative","scale":{"domain":[0,12],"nice":false},"axis":{"title":"Hopanes/Steranes","values":[0,2,4,6,8,10,12],"labelExpr":"datum.value%4==0?format(datum.value,'d'):''","titleX":-35}}},
"layer":[
{"data":{"name":"ell"},"transform":[{"filter":"datum.id=='f1'"}],"mark":{"type":"point","shape":"M1,0C1,0.1724 0.5523,0.3121 0,0.3121C-0.5523,0.3121 -1,0.1724 -1,0C-1,-0.1724 -0.5523,-0.3121 0,-0.3121C0.5523,-0.3121 1,-0.1724 1,0Z","size":98596,"angle":86.2,"filled":false,"stroke":"#666","strokeWidth":1,"strokeDash":[3,2.5],"opacity":1}},
{"data":{"name":"ell"},"transform":[{"filter":"datum.id=='f2'"}],"mark":{"type":"point","shape":"M1,0C1,0.2181 0.5523,0.3949 0,0.3949C-0.5523,0.3949 -1,0.2181 -1,0C-1,-0.2181 -0.5523,-0.3949 0,-0.3949C0.5523,-0.3949 1,-0.2181 1,0Z","size":98596,"angle":338,"filled":false,"stroke":"#666","strokeWidth":1,"strokeDash":[3,2.5],"opacity":1}},
{"data":{"name":"pts"},"transform":[{"filter":"datum.p=='f'"}],"mark":{"type":"point","filled":false,"size":100,"strokeWidth":1.3,"opacity":1},
"encoding":{"color":{"field":"fam","type":"nominal","scale":{"domain":["Family I","Family II"],"range":["#72bff5","#f9ad62"]},"legend":null},
"shape":{"field":"oil","type":"nominal","scale":{"domain":["Family I","Family II","Es1 oil","Es2 oil","Es3 oil","Es4 oil"],"range":["stroke","stroke","M-1.1,-1.1L1.1,-1.1L1.1,1.1L-1.1,1.1Z","M0,-1.25L1.3,1L-1.3,1Z","circle","M0,-1.35L0.317,-0.437L1.284,-0.417L0.513,0.167L0.794,1.092L0,0.54L-0.794,1.092L-0.513,0.167L-1.284,-0.417L-0.317,-0.437Z"]}}}},
{"data":{"name":"ann"},"transform":[{"filter":"datum.p=='f'&&datum.k=='fam1'"}],"mark":{"type":"text","fontSize":20,"fontWeight":"bold","fill":"#72bff5"},"encoding":{"text":{"field":"label"}}},
{"data":{"name":"ann"},"transform":[{"filter":"datum.p=='f'&&datum.k=='fam2'"}],"mark":{"type":"text","fontSize":20,"fontWeight":"bold","fill":"#f9ad62"},"encoding":{"text":{"field":"label"}}},
{"data":{"name":"ann"},"transform":[{"filter":"datum.p=='f'&&datum.k=='panel'"}],"mark":{"type":"text","fontSize":28,"fontWeight":"bold","fill":"#111"},"encoding":{"text":{"field":"label"}}}
]},
{"width":384,"height":315,
"encoding":{"x":{"field":"x","type":"quantitative","scale":{"domain":[0,0.7],"nice":false},"axis":{"title":"C₂₉ 20S/(20S+20R)","values":[0,0.1,0.2,0.3,0.4,0.5,0.6,0.7],"labelExpr":"datum.value==0||datum.value==0.2||datum.value==0.4||datum.value==0.6?format(datum.value,'~g'):''","titleY":38,"tickSize":5,"labelPadding":4}},
"y":{"field":"y","type":"quantitative","scale":{"domain":[0,0.7],"nice":false},"axis":{"title":"C₂₉ ββ/(αα+ββ)","values":[0,0.1,0.2,0.3,0.4,0.5,0.6,0.7],"labelExpr":"datum.value==0||datum.value==0.2||datum.value==0.4||datum.value==0.6?format(datum.value,'~g'):''","titleX":-46,"tickSize":5,"labelPadding":4}}},
"layer":[
{"data":{"name":"glin"},"mark":{"type":"rule","stroke":"#666","strokeWidth":1,"strokeDash":[3,2.5]},"encoding":{"x2":{"field":"x2"},"y2":{"field":"y2"}}},
{"data":{"name":"arr"},"transform":[{"filter":"datum.p=='g'"}],"mark":{"type":"rule","stroke":"#111","strokeWidth":1.8},"encoding":{"x2":{"field":"x2"},"y2":{"field":"y2"}}},
{"data":{"name":"arr"},"transform":[{"filter":"datum.id=='g'"}],"mark":{"type":"point","shape":"M0,0L-2,-0.7L-2,0.7Z","size":169,"angle":313.4,"filled":true,"color":"#111","opacity":1},"encoding":{"x":{"field":"x2","type":"quantitative"},"y":{"field":"y2","type":"quantitative"}}},
{"data":{"name":"pts"},"transform":[{"filter":"datum.p=='g'"}],"mark":{"type":"point","filled":false,"size":100,"strokeWidth":1.3,"opacity":1},
"encoding":{"color":{"field":"fam","type":"nominal","scale":{"domain":["Family I","Family II"],"range":["#72bff5","#f9ad62"]},"legend":null},
"shape":{"field":"oil","type":"nominal","scale":{"domain":["Family I","Family II","Es1 oil","Es2 oil","Es3 oil","Es4 oil"],"range":["stroke","stroke","M-1.1,-1.1L1.1,-1.1L1.1,1.1L-1.1,1.1Z","M0,-1.25L1.3,1L-1.3,1Z","circle","M0,-1.35L0.317,-0.437L1.284,-0.417L0.513,0.167L0.794,1.092L0,0.54L-0.794,1.092L-0.513,0.167L-1.284,-0.417L-0.317,-0.437Z"]}}}},
{"data":{"name":"ann"},"transform":[{"filter":"datum.p=='g'&&datum.k=='noteL'"}],"mark":{"type":"text","fontSize":20,"fill":"#222","align":"left"},"encoding":{"text":{"field":"label"}}},
{"data":{"name":"ann"},"transform":[{"filter":"datum.p=='g'&&datum.k=='panel'"}],"mark":{"type":"text","fontSize":28,"fontWeight":"bold","fill":"#111"},"encoding":{"text":{"field":"label"}}}
]},
{"width":394,"height":315,
"encoding":{"x":{"field":"x","type":"quantitative","scale":{"domain":[-0.065,3],"nice":false,"zero":false},"axis":{"title":"C₃₅/C₃₄ H","values":[0,0.5,1,1.5,2,2.5,3],"labelExpr":"datum.value%1==0?format(datum.value,'d'):''","titleY":36}},
"y":{"field":"y","type":"quantitative","scale":{"domain":[0,0.5],"nice":false},"axis":{"title":"Ts/(Ts+Tm)","values":[0,0.1,0.2,0.3,0.4,0.5],"format":"~g","titleX":-45}}},
"layer":[
{"data":{"name":"ell"},"transform":[{"filter":"datum.id=='h1'"}],"mark":{"type":"point","shape":"M1,0C1,0.4537 0.5523,0.8214 0,0.8214C-0.5523,0.8214 -1,0.4537 -1,0C-1,-0.4537 -0.5523,-0.8214 0,-0.8214C0.5523,-0.8214 1,-0.4537 1,0Z","size":28224,"angle":94,"filled":false,"stroke":"#666","strokeWidth":1,"strokeDash":[3,2.5],"opacity":1}},
{"data":{"name":"ell"},"transform":[{"filter":"datum.id=='h2'"}],"mark":{"type":"point","shape":"M1,0C1,0.132 0.5523,0.239 0,0.239C-0.5523,0.239 -1,0.132 -1,0C-1,-0.132 -0.5523,-0.239 0,-0.239C0.5523,-0.239 1,-0.132 1,0Z","size":168100,"angle":23.4,"filled":false,"stroke":"#666","strokeWidth":1,"strokeDash":[3,2.5],"opacity":1}},
{"data":{"name":"pts"},"transform":[{"filter":"datum.p=='h'"}],"mark":{"type":"point","filled":false,"size":100,"strokeWidth":1.3,"opacity":1},
"encoding":{"color":{"field":"fam","type":"nominal","scale":{"domain":["Family I","Family II"],"range":["#72bff5","#f9ad62"]},"legend":null},
"shape":{"field":"oil","type":"nominal","scale":{"domain":["Family I","Family II","Es1 oil","Es2 oil","Es3 oil","Es4 oil"],"range":["stroke","stroke","M-1.1,-1.1L1.1,-1.1L1.1,1.1L-1.1,1.1Z","M0,-1.25L1.3,1L-1.3,1Z","circle","M0,-1.35L0.317,-0.437L1.284,-0.417L0.513,0.167L0.794,1.092L0,0.54L-0.794,1.092L-0.513,0.167L-1.284,-0.417L-0.317,-0.437Z"]}}}},
{"data":{"name":"ann"},"transform":[{"filter":"datum.p=='h'&&datum.k=='fam1'"}],"mark":{"type":"text","fontSize":20,"fontWeight":"bold","fill":"#72bff5"},"encoding":{"text":{"field":"label"}}},
{"data":{"name":"ann"},"transform":[{"filter":"datum.p=='h'&&datum.k=='fam2'"}],"mark":{"type":"text","fontSize":20,"fontWeight":"bold","fill":"#f9ad62"},"encoding":{"text":{"field":"label"}}},
{"data":{"name":"ann"},"transform":[{"filter":"datum.p=='h'&&datum.k=='panel'"}],"mark":{"type":"text","fontSize":28,"fontWeight":"bold","fill":"#111"},"encoding":{"text":{"field":"label"}}}
]}
]
}
